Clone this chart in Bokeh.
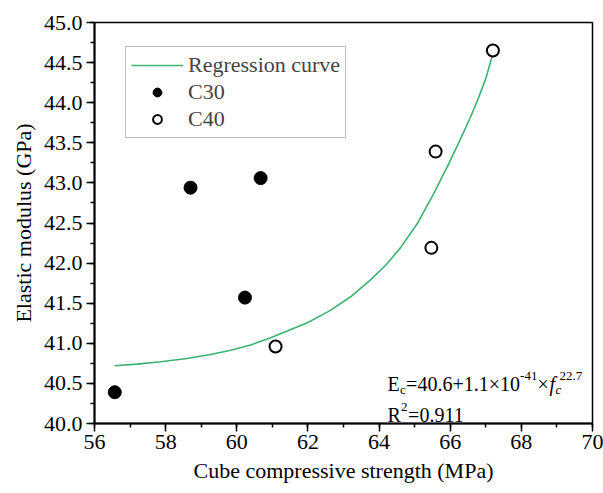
from bokeh.plotting import figure
from bokeh.models import Range1d, Label, Legend, LegendItem, FixedTicker, NumeralTickFormatter, LinearAxis
from bokeh.embed import file_html
from bokeh.resources import INLINE

# Data
c30_x = [56.57, 58.70, 60.23, 60.67]
c30_y = [40.39, 42.94, 41.57, 43.06]
c40_x = [61.09, 65.47, 65.59, 67.20]
c40_y = [40.96, 42.19, 43.39, 44.65]
curve_x = [56.56, 57.20, 57.86, 58.60, 59.26, 59.80, 60.39, 60.90, 61.40, 62.00, 62.63, 63.20, 63.76, 64.20, 64.60, 65.10, 65.54, 65.95, 66.29, 66.55, 66.76, 67.00, 67.18]
curve_y = [40.72, 40.74, 40.77, 40.81, 40.86, 40.91, 40.98, 41.06, 41.15, 41.26, 41.41, 41.58, 41.79, 41.98, 42.19, 42.51, 42.87, 43.23, 43.55, 43.80, 44.02, 44.30, 44.58]
x_ticks = [56, 58, 60, 62, 64, 66, 68, 70]
y_ticks = [40.0, 40.5, 41.0, 41.5, 42.0, 42.5, 43.0, 43.5, 44.0, 44.5, 45.0]

FONT = "Liberation Serif"
AXFONT = "Times New Roman"

p = figure(width=603, height=493, output_backend="svg", toolbar_location=None,
           x_range=Range1d(56, 70), y_range=Range1d(40, 45),
           x_axis_location=None, y_axis_location=None,
           min_border_left=94, min_border_right=11, min_border_top=22, min_border_bottom=70)
p.xgrid.visible = False
p.ygrid.visible = False
p.outline_line_color = "black"
p.outline_line_width = 1.5
p.background_fill_color = "white"
p.border_fill_color = "white"

common = dict(axis_line_width=2, axis_line_color="black",
              major_tick_line_width=1.5, minor_tick_line_width=1.5,
              major_tick_line_color="black", minor_tick_line_color="black",
              major_tick_out=8, major_tick_in=0, minor_tick_out=4, minor_tick_in=0,
              major_label_text_font=AXFONT, major_label_text_font_size="22px",
              major_label_text_color="black",
              axis_label_text_font=AXFONT, axis_label_text_font_size="22px",
              axis_label_text_font_style="normal", axis_label_text_color="black")

xa = LinearAxis(ticker=FixedTicker(ticks=x_ticks, minor_ticks=list(range(56, 71))),
                axis_label="Cube compressive strength (MPa)", axis_label_standoff=6,
                major_label_standoff=3, **common)
ya = LinearAxis(ticker=FixedTicker(ticks=y_ticks, minor_ticks=[40 + 0.25 * i for i in range(21)]),
                formatter=NumeralTickFormatter(format="0.0"),
                axis_label="Elastic modulus (GPa)", axis_label_standoff=5,
                major_label_standoff=4, **common)
p.add_layout(xa, "below")
p.add_layout(ya, "left")

line_r = p.line(curve_x, curve_y, line_color="#3cb371", line_width=1.6)
# legend-size markers, fully covered by the larger plotted markers
c30_leg = p.scatter(c30_x, c30_y, marker="circle", size=10, fill_color="black", line_color="black")
c40_leg = p.scatter(c40_x, c40_y, marker="circle", size=8, fill_color="white", line_color="black", line_width=2)
c30_r = p.scatter(c30_x, c30_y, marker="circle", size=13, fill_color="black", line_color="black")
c40_r = p.scatter(c40_x, c40_y, marker="circle", size=12, fill_color="white", line_color="black", line_width=2)

legend = Legend(items=[LegendItem(label="Regression curve", renderers=[line_r]),
                       LegendItem(label="C30", renderers=[c30_leg]),
                       LegendItem(label="C40", renderers=[c40_leg])],
                location=(31, 285), label_text_font=FONT, label_text_font_size="22px",
                glyph_width=52, glyph_height=22, label_height=22, label_standoff=5,
                spacing=1, padding=5, margin=0, border_line_color="#808080",
                border_line_width=1, background_fill_alpha=1)
p.add_layout(legend, "center")

# Formula annotation
ax0, ay0 = 64.24, 40.49
pieces = [
    ("E", 0, 0, "20px", "normal"),
    ("c", 12.5, -5, "13px", "normal"),
    ("=40.6+1.1\u00d710", 18.5, 0, "20px", "normal"),
    ("-41", 132.5, 8, "13px", "normal"),
    ("\u00d7", 150, 0, "20px", "normal"),
    ("f", 162, 0, "20px", "italic"),
    ("c", 168, -5, "13px", "italic"),
    ("22.7", 172, 8, "13px", "normal"),
]
for t, dx, dy, fs, st in pieces:
    p.add_layout(Label(x=ax0, y=ay0, text=t, x_offset=dx, y_offset=dy, text_font=FONT,
                       text_font_size=fs, text_font_style=st, text_baseline="alphabetic",
                       text_color="black"))
ry0 = 40.11
for t, dx, dy, fs in [("R", 0, 0, "20px"), ("2", 13.5, 8, "13px"), ("=0.911", 20.5, 0, "20px")]:
    p.add_layout(Label(x=ax0, y=ry0, text=t, x_offset=dx, y_offset=dy, text_font=FONT,
                       text_font_size=fs, text_baseline="alphabetic", text_color="black"))

open("out.html", "w").write(file_html(p, INLINE))
